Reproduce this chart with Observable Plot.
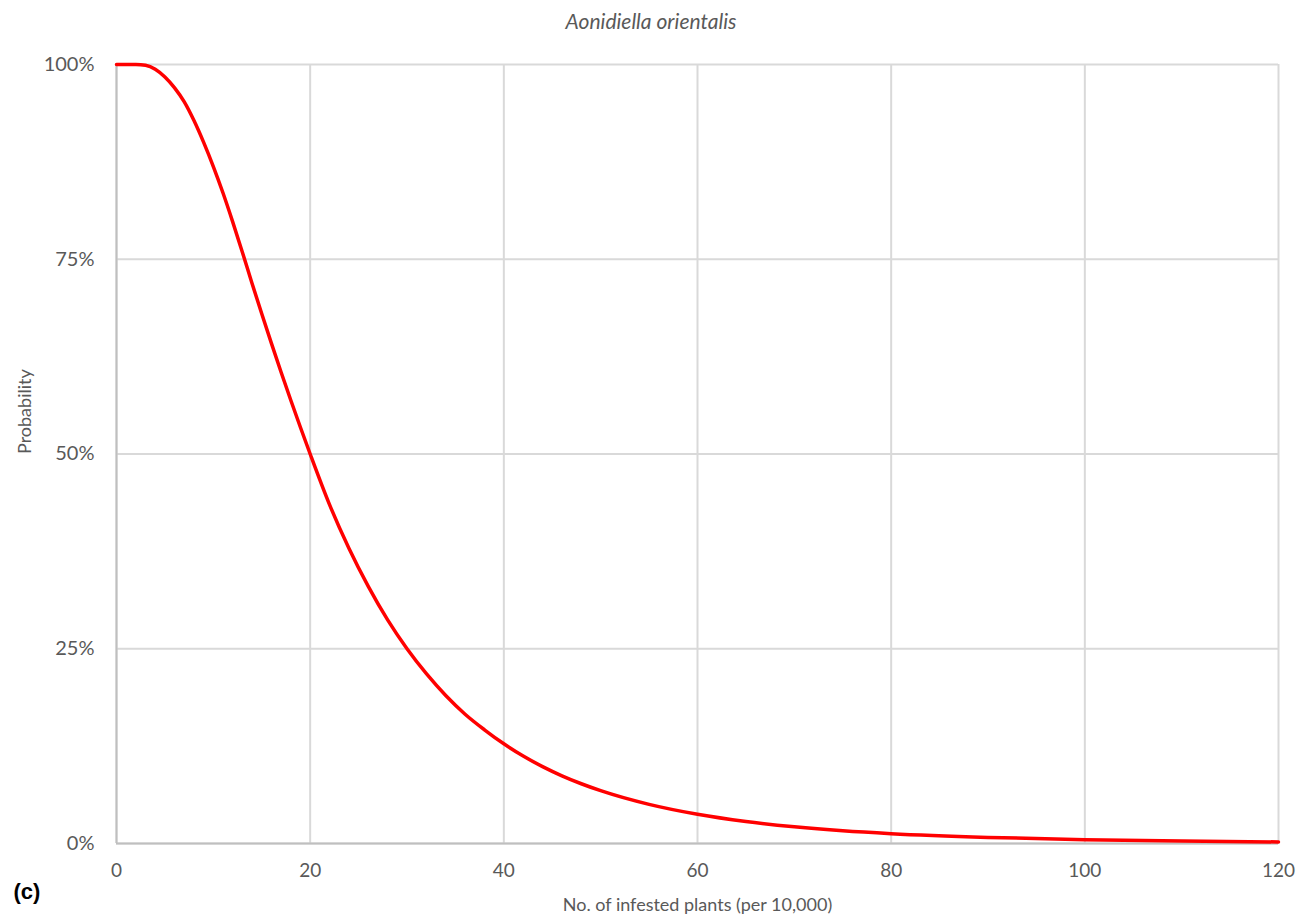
<!DOCTYPE html>
<html>
<head>
<meta charset="utf-8">
<script src="https://cdn.jsdelivr.net/npm/d3@7"></script>
<script src="https://cdn.jsdelivr.net/npm/@observablehq/plot@0.6"></script>
<style>
  html, body { margin: 0; padding: 0; background: #fff; }
  #wrap { position: relative; width: 1299px; height: 919px; }
  #title { position: absolute; top: 8px; left: 0; width: 1302px; text-align: center; z-index: 2;
           font: italic 21px Lato, "Open Sans", sans-serif; color: #595959; }
  #chart { position: absolute; top: 0; left: 0; z-index: 1; }
</style>
</head>
<body>
<div id="wrap">
  <div id="title"></div>
  <div id="chart"></div>
</div>
<script>
const titleText = "Aonidiella orientalis";
const xLabel = "No. of infested plants (per 10,000)";
const yLabel = "Probability";
const panelLabel = "(c)";

const xTicks = [0, 20, 40, 60, 80, 100, 120];
const yTicks = [0, 0.25, 0.5, 0.75, 1];

const plantsX = [0, 2, 3, 4, 5, 6, 7, 8, 9, 10, 11, 12, 13, 14, 15, 16, 17, 18, 19, 20,
                 22, 24, 26, 28, 30, 32, 34, 36, 38, 40, 42, 44, 46, 48, 50, 55, 60, 65, 70, 75, 80, 90, 100, 110, 120];
const probY = [100, 100, 99.9, 99.4, 98.4, 97.0, 95.2, 92.8, 90.0, 86.9, 83.5, 79.8, 75.9, 71.9, 68.0, 64.2, 60.5, 56.9, 53.4, 50.0,
               43.5, 37.9, 33.0, 28.7, 25.0, 21.8, 19.0, 16.6, 14.6, 12.8, 11.23, 9.87, 8.69, 7.67, 6.78, 5.02, 3.75, 2.82, 2.14, 1.63, 1.26, 0.78, 0.49, 0.31, 0.2];

const data = plantsX.map((x, i) => ({x, y: probY[i] / 100}));

const chart = Plot.plot({
  width: 1299,
  height: 919,
  marginLeft: 116,
  marginRight: 21,
  marginTop: 64,
  marginBottom: 76,
  style: { fontFamily: "Lato, 'Open Sans', sans-serif", color: "#595959", background: "transparent" },
  x: { domain: [0, 120] },
  y: { domain: [0, 1] },
  marks: [
    Plot.ruleX(xTicks, { stroke: "#d9d9d9", strokeWidth: 2 }),
    Plot.ruleY(yTicks, { stroke: "#d9d9d9", strokeWidth: 2 }),
    Plot.ruleX([0], { stroke: "#bfbfbf", strokeWidth: 2 }),
    Plot.ruleY([0], { stroke: "#bfbfbf", strokeWidth: 2 }),
    Plot.axisY(yTicks, { tickFormat: d => Math.round(d * 100) + "%", tickSize: 0, tickPadding: 22, label: null, fontSize: 20, fill: "#595959" }),
    Plot.axisX(xTicks, { tickSize: 0, tickPadding: 20, label: null, fontSize: 19, fill: "#595959" }),
    Plot.line(data, { x: "x", y: "y", stroke: "#ff0000", strokeWidth: 3.5, curve: "monotone-x" }),
    Plot.text([yLabel], { frameAnchor: "left", dx: -91, rotate: -90, text: d => d, fontSize: 18, fill: "#595959" }),
    Plot.text([xLabel], { frameAnchor: "bottom", dy: 67, text: d => d, fontSize: 18, fill: "#595959" }),
    Plot.text([panelLabel], { frameAnchor: "bottom-left", dx: -103, dy: 55, textAnchor: "start", text: d => d,
                              fontSize: 22, fontWeight: "bold", fontFamily: "Arial, 'Liberation Sans', sans-serif", fill: "#000" })
  ]
});
document.getElementById("chart").appendChild(chart);
document.getElementById("title").textContent = titleText;
</script>
</body>
</html>
